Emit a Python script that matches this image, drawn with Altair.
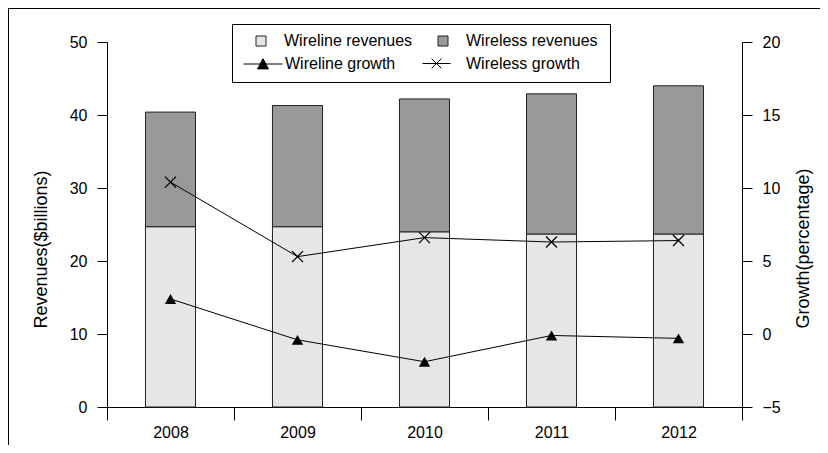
import altair as alt
import pandas as pd

years = ["2008", "2009", "2010", "2011", "2012"]
wireline_rev = [24.7, 24.7, 24.0, 23.7, 23.7]
wireless_rev = [15.7, 16.6, 18.2, 19.2, 20.3]
wireline_growth = [2.4, -0.4, -1.9, -0.1, -0.3]
wireless_growth = [10.4, 5.3, 6.6, 6.3, 6.4]
rev_types = ["Wireline revenues", "Wireless revenues"]
rev_colors = ["#e6e6e6", "#999999"]

FONT = "Liberation Sans, Arial, sans-serif"

bars_df = pd.DataFrame(
    [{"year": y, "type": rev_types[0], "ord": 0, "value": v} for y, v in zip(years, wireline_rev)]
    + [{"year": y, "type": rev_types[1], "ord": 1, "value": v} for y, v in zip(years, wireless_rev)]
)
wl_df = pd.DataFrame({"year": years, "g": wireline_growth, "lab": "Wireline growth"})
ws_df = pd.DataFrame({"year": years, "g": wireless_growth, "lab": "Wireless growth"})
one = pd.DataFrame({"k": [0]})

x_enc = alt.X(
    "year:O",
    title=None,
    scale=alt.Scale(paddingInner=0, paddingOuter=0),
    axis=alt.Axis(tickBand="extent", tickSize=13, labelPadding=4, labelAngle=0),
)

bars = alt.Chart(bars_df).mark_bar(
    width=alt.RelativeBandSize(0.394), stroke="#222222", strokeWidth=1
).encode(
    x=x_enc,
    y=alt.Y(
        "value:Q",
        stack="zero",
        scale=alt.Scale(domain=[0, 50], nice=False),
        axis=alt.Axis(
            values=[0, 10, 20, 30, 40, 50],
            tickSize=10,
            labelPadding=10,
            title="Revenues($billions)",
            titleX=-66,
            titleY=207,
            titleAlign="center",
            titleBaseline="middle",
        ),
    ),
    color=alt.Color(
        "type:N",
        scale=alt.Scale(domain=rev_types, range=rev_colors),
        legend=alt.Legend(
            title=None,
            orient="none",
            legendX=146,
            legendY=-9,
            columns=2,
            columnPadding=22,
            symbolType="square",
            symbolSize=100,
            symbolStrokeColor="#222222",
            symbolStrokeWidth=1,
            labelOffset=15,
            padding=0,
        ),
    ),
    order=alt.Order("ord:Q", sort="ascending"),
)

y_g = alt.Y(
    "g:Q",
    scale=alt.Scale(domain=[-5, 20], nice=False),
    axis=alt.Axis(
        orient="right",
        values=[-5, 0, 5, 10, 15, 20],
        tickSize=10,
        labelPadding=10,
        title="Growth(percentage)",
        titleX=61,
        titleY=206,
        titleAlign="center",
        titleBaseline="middle",
        titleAngle=270,
    ),
)

tri_path = "M-1,0H1M-0.28,0.25L0,-0.27L0.28,0.25Z"
x_path = "M-1,0H1M-0.35,-0.35L0.35,0.35M-0.35,0.35L0.35,-0.35"
x_marker = "M-1,-1L1,1M-1,1L1,-1"

wl_line = alt.Chart(wl_df).mark_line(color="black", strokeWidth=1).encode(
    x="year:O",
    y=y_g,
    opacity=alt.Opacity(
        "lab:N",
        scale=alt.Scale(range=[1, 1]),
        legend=alt.Legend(
            title=None,
            orient="none",
            legendX=136,
            legendY=2,
            symbolType=tri_path,
            symbolSize=1521,
            symbolFillColor="black",
            symbolStrokeColor="black",
            symbolStrokeWidth=1,
            labelOffset=2,
            padding=0,
        ),
    ),
)
wl_pts = alt.Chart(wl_df).mark_point(
    shape="triangle-up", filled=True, color="black", size=130, opacity=1
).encode(x="year:O", y=alt.Y("g:Q"))
ws_line = alt.Chart(ws_df).mark_line(color="black", strokeWidth=1).encode(
    x="year:O",
    y=alt.Y("g:Q"),
    strokeWidth=alt.StrokeWidth(
        "lab:N",
        scale=alt.Scale(range=[1, 1]),
        legend=alt.Legend(
            title=None,
            orient="none",
            legendX=315,
            legendY=7,
            symbolType=x_path,
            symbolSize=784,
            symbolFillColor="transparent",
            symbolStrokeColor="black",
            symbolStrokeWidth=1,
            labelOffset=15,
            padding=0,
        ),
    ),
)
ws_pts = alt.Chart(ws_df).mark_point(
    shape=x_marker, filled=False, color="black", size=121, strokeWidth=1.3, opacity=1
).encode(x="year:O", y=alt.Y("g:Q"))

growth = alt.layer(wl_line, wl_pts, ws_line, ws_pts)

frame_top = alt.Chart(one).mark_rule(color="black", strokeWidth=1).encode(
    x=alt.value(-99), x2=alt.value(715), y=alt.value(-33.5)
)
frame_left = alt.Chart(one).mark_rule(color="black", strokeWidth=1).encode(
    x=alt.value(-98.5), y=alt.value(-34), y2=alt.value(405)
)
legend_box = alt.Chart(one).mark_rect(fill="white", stroke="black", strokeWidth=1).encode(
    x=alt.value(125.5), x2=alt.value(503.5), y=alt.value(-17.5), y2=alt.value(40.5)
)

chart = (
    alt.layer(frame_top, frame_left, legend_box, bars, growth)
    .resolve_scale(y="independent")
    .properties(
        width=635,
        height=365,
        padding={"left": 99, "top": 34, "right": 78, "bottom": 38},
        autosize=alt.AutoSizeParams(type="none"),
    )
    .configure_view(stroke=None)
    .configure_axis(
        grid=False,
        domainColor="black",
        tickColor="black",
        labelColor="black",
        titleColor="black",
        labelFont=FONT,
        titleFont=FONT,
        labelFontSize=16,
        titleFontSize=18,
        titleFontWeight="normal",
    )
    .configure_legend(labelFont=FONT, labelFontSize=16, labelColor="black")
)

chart.save("out.html", embed_options={"renderer": "svg", "actions": False})
